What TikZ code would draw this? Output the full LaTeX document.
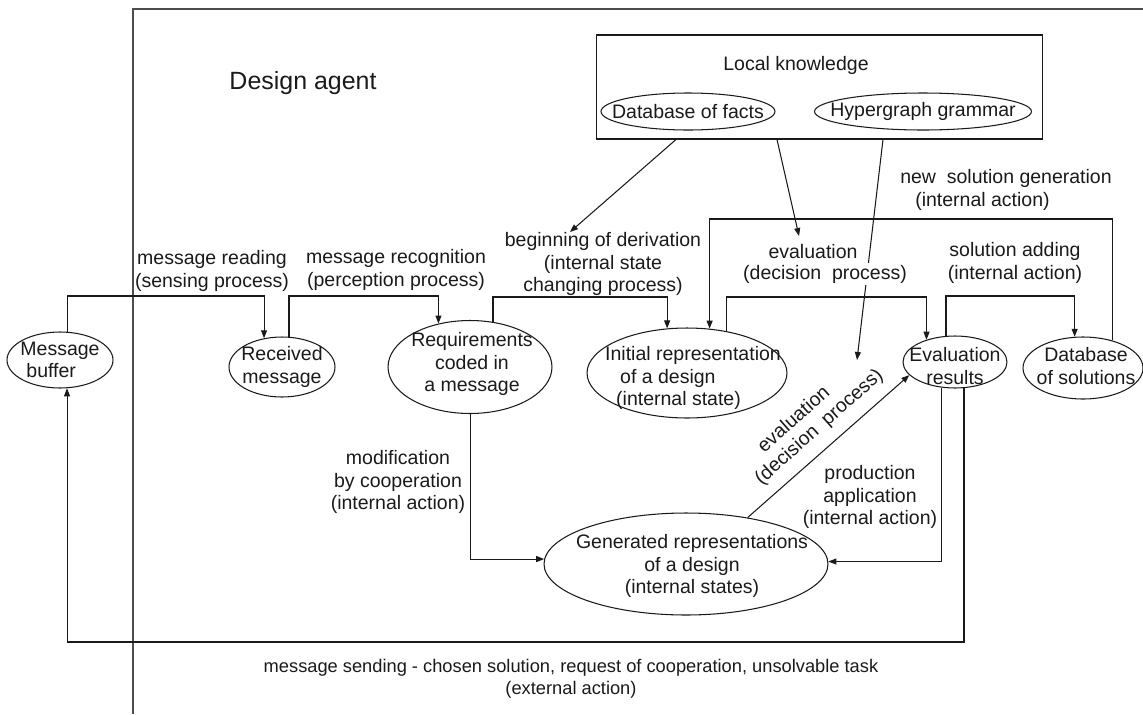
\documentclass[tikz,border=0pt]{standalone}
\usepackage{fontspec}
\setmainfont{Liberation Sans}
\usetikzlibrary{arrows.meta,shapes.geometric}
\definecolor{ink}{HTML}{1A1A1A}
\definecolor{framegray}{HTML}{4D4D4D}

\begin{document}
\begin{tikzpicture}[x=0.02cm,y=-0.02cm,
  every node/.style={text=ink},
  ell/.style={draw=ink, ellipse, inner sep=0pt, line width=0.6pt},
  etxt/.style={font=\fontsize{11.1}{12.6}\selectfont, align=center, inner sep=0pt},
  lbl/.style={font=\fontsize{11.1}{12.6}\selectfont, align=center, inner sep=1pt},
  conn/.style={draw=ink, line width=0.6pt},
  arr/.style={conn, -{Triangle[length=0.16cm,width=0.12cm]}},
  agentframe/.style={draw=framegray, line width=0.6pt},
]
\useasboundingbox (0,0) rectangle (1143,714);

% boundary of the agent
\draw[agentframe] (133,714) -- (133,9) -- (1143,9);
\node[font=\fontsize{14.2}{16}\selectfont] (agent) at (303,83) {Design agent};

% local knowledge
\node[draw=ink, line width=0.6pt, minimum width=8.94cm, minimum height=2.08cm, inner sep=0pt] (lk) at (819.5,87) {};
\node[lbl] (lkT) at (796,65) {Local knowledge};
\node[ell, minimum width=3.48cm, minimum height=0.74cm] (dbf) at (688,111.5) {};
\node[etxt] (dbfT) at (dbf) {Database of facts};
\node[ell, minimum width=4.34cm, minimum height=0.74cm] (hyp) at (923,111.5) {};
\node[etxt] (hypT) at (hyp) {Hypergraph grammar};

% states
\node[ell, minimum width=2.12cm, minimum height=1.12cm] (mb) at (60,360) {};
\node[etxt, align=left] (mbT) at (mb) {Message\\\hspace*{0.12cm}buffer};
\node[ell, minimum width=2.12cm, minimum height=1.2cm] (rm) at (282,367) {};
\node[etxt] (rmT) at (rm) {Received\\message};
\node[ell, minimum width=3.28cm, minimum height=1.86cm] (req) at (470,367) {};
\node[etxt] (reqT) at (472,364) {Requirements\\coded in\\a message};
\node[ell, minimum width=4.0cm, minimum height=1.8cm] (init) at (687,373) {};
\node[etxt, align=left] (initT) at (693,378) {Initial representation\\\hspace*{0.3cm}of a design\\\hspace*{0.22cm}(internal state)};
\node[ell, minimum width=2.08cm, minimum height=1.04cm] (er) at (955,362) {};
\node[etxt] (erT) at (955,366) {Evaluation\\results};
\node[ell, minimum width=2.4cm, minimum height=1.24cm] (dbs) at (1083,368) {};
\node[etxt] (dbsT) at (1086,366) {Database\\of solutions};
\node[ell, minimum width=5.68cm, minimum height=2.04cm] (gen) at (686,564) {};
\node[etxt] (genT) at (692,566) {Generated representations\\of a design\\(internal states)};

% arrows from the knowledge base
\coordinate (t1) at (570,232);
\coordinate (t2) at (799,236);
\coordinate (t3) at (857,360);
\draw[arr] (lk.south -| 676,0) -- (t1);
\draw[arr] (lk.south -| 777,0) -- (t2);
\draw[arr] (lk.south -| 883,0) -- (t3);

% transitions
\draw[arr] (mb.76) -- (mb.76 |- 0,296) -| (rm.122);
\draw[arr] (rm.77) -- (rm.77 |- 0,296) -| (req.126);
\draw[arr] (req.63) -- (req.63 |- 0,297) -| (init.114);
\draw[arr] (dbs.43) -- (dbs.43 |- 0,219) -| (init.63);
\draw[arr] (init.47) -- (init.47 |- 0,297) -| (er.142);
\draw[arr] (er.109) -- (er.109 |- 0,296) -| (dbs.105);
\draw[arr] (req.-89) |- (gen.178);
\draw[arr] (er.-117) |- (gen.1);
\draw[arr] (er.-71) -- (er.-71 |- 0,642) -| (mb.-76);
\draw[arr] (gen.37) -- (er.-164);

% labels
\node[lbl] (lread) at (212,271) {message reading\\(sensing process)};
\node[lbl] (lrec) at (396,270) {message recognition\\(perception process)};
\node[lbl] (lbeg) at (603,264) {beginning of derivation\\(internal state\\changing process)};
\node[lbl] (lev1) at (813,252) {evaluation};
\node[lbl, fill=white] (lev2) at (825,274) {(decision\ \ process)};
\node[lbl, align=left] (lnew) at (1006,190) {new\ \ solution generation\\\hspace*{0.3cm}(internal action)};
\node[lbl] (ladd) at (1015,263) {solution adding\\(internal action)};
\node[lbl] (lmod) at (398,482) {modification\\by cooperation\\(internal action)};
\node[lbl] (lprod) at (870,497) {production\\application\\(internal action)};
\node[lbl, rotate=41.6] (ldia) at (812,419) {\hspace*{-0.56cm}evaluation\\(decision\ \ process)};
\node[lbl, font=\fontsize{10.4}{12.5}\selectfont] (lsend) at (571,679) {message sending - chosen solution, request of cooperation, unsolvable task\\(external action)};
\end{tikzpicture}
\end{document}
